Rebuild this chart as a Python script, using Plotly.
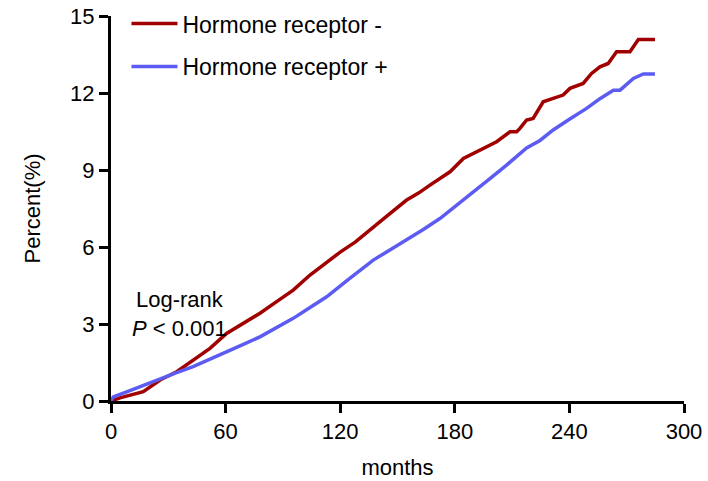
"""Cumulative incidence by hormone receptor status (Plotly)."""

import plotly.graph_objects as go

# months / percent
neg_months = [0, 4.7, 16.9, 25.7, 34.4, 43.1, 51.8, 60.5, 69.2, 78, 86.7, 95.4, 104.2, 112, 120,
              128, 137.3, 146, 154.8, 161, 167, 172, 177.5, 184.5, 193.2, 201.9, 208.9, 212.4,
              214.1, 217.6, 221, 226.3, 231.5, 236.7, 240.3, 247.2, 251.6, 256, 260.3, 264.7,
              271.7, 274.3, 276.1, 284.8]
neg_pct = [0, 0.12, 0.36, 0.82, 1.14, 1.6, 2.05, 2.63, 3.03, 3.42, 3.87, 4.32, 4.91, 5.35, 5.8,
           6.2, 6.79, 7.3, 7.83, 8.1, 8.41, 8.65, 8.93, 9.45, 9.78, 10.1, 10.49, 10.49,
           10.62, 10.95, 11.01, 11.66, 11.79, 11.92, 12.18, 12.37, 12.76, 13.02, 13.15, 13.61,
           13.61, 13.87, 14.08, 14.08]

pos_months = [0, 1.2, 8.2, 17, 25.7, 34, 43, 51.8, 60.5, 69, 78, 86.7, 95.4, 104, 112.9, 124,
              137.3, 146, 154.8, 163.5, 172.2, 181, 189.7, 198.4, 207.1, 217.6, 224.6, 231.5,
              240, 249, 256, 263, 266.5, 273.5, 278.7, 284.8]
pos_pct = [0, 0.16, 0.36, 0.62, 0.89, 1.1, 1.34, 1.62, 1.92, 2.2, 2.5, 2.85, 3.22, 3.63, 4.06, 4.72,
           5.49, 5.88, 6.27, 6.68, 7.11, 7.62, 8.15, 8.66, 9.19, 9.86, 10.15, 10.56,
           10.98, 11.4, 11.78, 12.11, 12.11, 12.57, 12.74, 12.74]

x_ticks = [0, 60, 120, 180, 240, 300]
y_ticks = [0, 3, 6, 9, 12, 15]

RED = "#A00000"
BLUE = "#5C5CF2"
FONT = "Liberation Sans, Arial, sans-serif"
FS = 22

fig = go.Figure()
fig.add_trace(go.Scatter(x=neg_months, y=neg_pct, mode="lines", name="Hormone receptor -",
                         legendgroup="neg", line=dict(color=RED, width=3.5)))
fig.add_trace(go.Scatter(x=pos_months, y=pos_pct, mode="lines", name="Hormone receptor +",
                         legendgroup="pos", line=dict(color=BLUE, width=3.5)))

axis_style = dict(showline=True, linecolor="black", linewidth=3, ticks="outside",
                  ticklen=9, tickwidth=3, tickcolor="black", showgrid=False, zeroline=False,
                  tickfont=dict(size=FS, color="black"), mirror=False, automargin=False)

fig.update_xaxes(range=[0, 300], tickvals=x_ticks,
                 title=dict(text="months", font=dict(size=FS, color="black"), standoff=17),
                 **axis_style)
fig.update_yaxes(range=[0, 15], tickvals=y_ticks,
                 title=dict(text="Percent(%)", font=dict(size=FS, color="black"), standoff=24),
                 **axis_style)

fig.add_annotation(x=0.12, y=0.225, xref="paper", yref="paper", showarrow=False,
                   xanchor="center", yanchor="middle",
                   text="Log-rank<br><i>P</i> < 0.001", align="center",
                   font=dict(size=FS, color="black", family=FONT))

fig.update_layout(
    width=708, height=481,
    margin=dict(l=111, r=24, t=16, b=80, autoexpand=False),
    paper_bgcolor="white", plot_bgcolor="white",
    font=dict(family=FONT, color="black"),
    showlegend=True,
    legend=dict(x=0.027, y=1.036, xanchor="left", yanchor="top", font=dict(size=23),
                itemwidth=46, tracegroupgap=10, bgcolor="rgba(0,0,0,0)"),
)

# drop the default 8px body margin so the figure fills the window
fig.write_html("out.html", config={"displayModeBar": False},
               post_script="document.body.style.margin='0';")
